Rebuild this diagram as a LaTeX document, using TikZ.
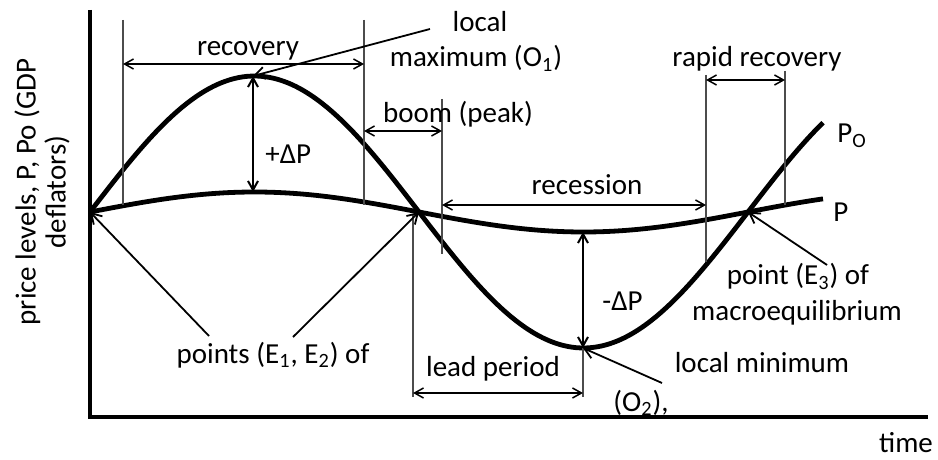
\documentclass[tikz,border=0pt]{standalone}
\usepackage{fontspec}
\setmainfont{Carlito}
\usetikzlibrary{arrows.meta}

\begin{document}
\begin{tikzpicture}[
x=0.5pt, y=-0.5pt,
every node/.style={font=\fontsize{14.5}{18}\selectfont, inner sep=0pt},
axis/.style={line width=2pt},
curve/.style={line width=2.4pt, line join=round},
guide/.style={line width=0.75pt, black!70},
span/.style={{Straight Barb[length=4.5pt, width=5pt]}-{Straight Barb[length=4.5pt, width=5pt]}, line width=0.75pt},
delta/.style={span, line width=1pt},
lead/.style={-{Straight Barb[length=5pt, width=6pt]}, line width=0.9pt},
lbl/.style={anchor=base}
]
\useasboundingbox (0,0) rectangle (938,460);

% axes
\coordinate (ytop) at (90,10);
\coordinate (orig) at (90,417);
\coordinate (xend) at (928,417);
\draw[axis] (ytop) -- (orig) -- (xend);
\node[lbl] (time) at (906,452) {time};
\node[rotate=90, align=center, font=\fontsize{14.5}{15}\selectfont] (ylab) at (42,192)
  {price levels, P, Po (GDP\\deflators)};

% the two curves
\draw[curve] plot[domain=90:823, samples=90, smooth] (\x, {212-136*sin(((\x-90)/329)*180)});
\draw[curve] plot[domain=90:823, samples=60, smooth] (\x, {212-20*sin(((\x-90)/329)*180)});
\node[anchor=base west] (po) at (837,143) {P\textsubscript{O}};
\node[anchor=base west] (p) at (833,221) {P};

% special points
\coordinate (E1) at (90,212);
\coordinate (E2) at (419,212);
\coordinate (E3) at (748,212);
\coordinate (O1) at (253,76);
\coordinate (O2) at (583,348);
\coordinate (P1) at (253,192);
\coordinate (P2) at (583,232);

% guide lines
\coordinate (g1a) at (123,20);  \coordinate (g1b) at (123,205);
\coordinate (g2a) at (364,20);  \coordinate (g2b) at (364,205);
\coordinate (g3a) at (442,99);  \coordinate (g3b) at (442,254);
\coordinate (g4a) at (413,214); \coordinate (g4b) at (413,397);
\coordinate (g5b) at (583,397);
\coordinate (g6a) at (706,75);  \coordinate (g6b) at (706,262);
\coordinate (g7a) at (785,71);  \coordinate (g7b) at (785,205);
\draw[guide] (g1a) -- (g1b);
\draw[guide] (g2a) -- (g2b);
\draw[guide] (g3a) -- (g3b);
\draw[guide] (g4a) -- (g4b);
\draw[guide] (O2) -- (g5b);
\draw[guide] (g6a) -- (g6b);
\draw[guide] (g7a) -- (g7b);

% phases
\coordinate (rec1) at (123,64);  \coordinate (rec2) at (364,64);
\coordinate (boom1) at (364,131); \coordinate (boom2) at (442,131);
\coordinate (ress1) at (442,205); \coordinate (ress2) at (706,205);
\coordinate (rap1) at (706,80);  \coordinate (rap2) at (785,80);
\coordinate (lead1) at (413,393); \coordinate (lead2) at (583,393);
\draw[span] (rec1) -- (rec2);
\draw[span] (boom1) -- (boom2);
\draw[span] (ress1) -- (ress2);
\draw[span] (rap1) -- (rap2);
\draw[span] (lead1) -- (lead2);
\node[lbl] (recovery) at (248,56) {recovery};
\node[lbl] (boom) at (458,123) {boom (peak)};
\node[lbl] (recession) at (587,195) {recession};
\node[lbl] (rapid) at (757,67) {rapid recovery};
\node[lbl] (leadp) at (493,376) {lead period};

% deviations
\draw[delta] (P1) -- (O1);
\draw[delta] (P2) -- (O2);
\node[anchor=base west] (dplus) at (265,163) {+ΔP};
\node[anchor=base west] (dminus) at (602,310) {-ΔP};

% callouts
\node[lbl] (max1) at (480,32) {local};
\node[lbl] (max2) at (476,67) {maximum (O\textsubscript{1})};
\node[lbl] (eq12) at (273,363) {points (E\textsubscript{1}, E\textsubscript{2}) of};
\node[lbl] (eq3a) at (798,285) {point (E\textsubscript{3}) of};
\node[lbl] (eq3b) at (797,320) {macroequilibrium};
\node[lbl] (min1) at (762,372) {local minimum};
\node[lbl] (min2) at (641,411) {(O\textsubscript{2}),};
\coordinate (c1) at (430,29);
\coordinate (c2) at (209,336);
\coordinate (c3) at (293,337);
\coordinate (c4) at (827,265);
\coordinate (c5) at (662,383);
\draw[lead] (c1) -- (O1);
\draw[lead] (c2) -- (E1);
\draw[lead] (c3) -- (E2);
\draw[lead] (c4) -- (E3);
\draw[lead] (c5) -- (O2);

\end{tikzpicture}
\end{document}
